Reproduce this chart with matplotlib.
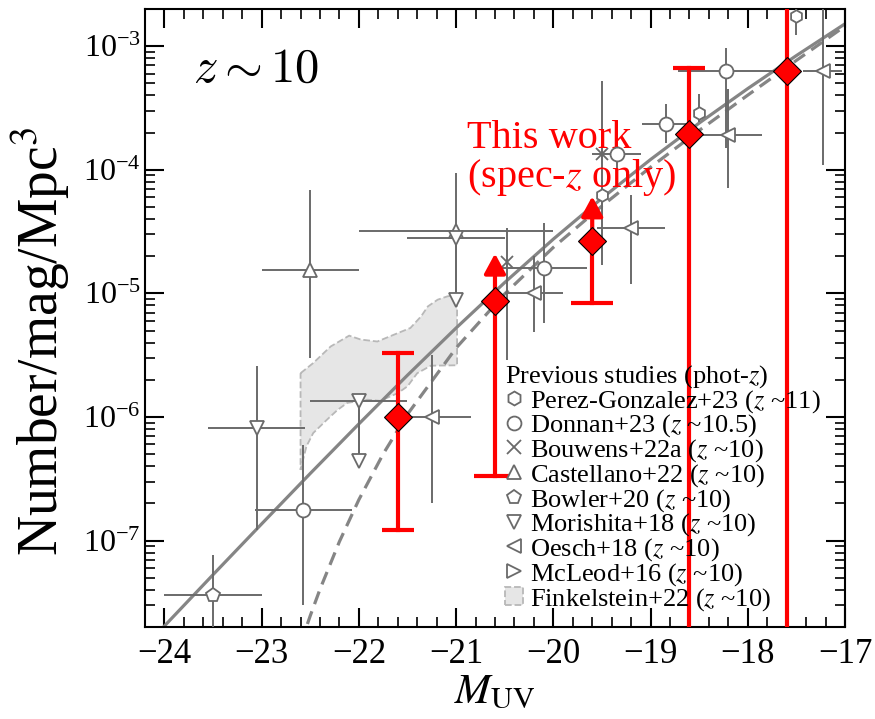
import numpy as np
import matplotlib
matplotlib.use("Agg")
import matplotlib.pyplot as plt
from matplotlib.lines import Line2D
from matplotlib.patches import Patch, Polygon
from matplotlib.ticker import MultipleLocator, LogLocator, NullFormatter, FuncFormatter

plt.rcParams['font.family'] = 'serif'
plt.rcParams['font.serif'] = ['Liberation Serif', 'DejaVu Serif']
plt.rcParams['mathtext.fontset'] = 'stix'

GREY = '#6a6a6a'
CURVE = '#858585'

# ---- this work (spec-z) ----
red_M = [-21.6, -20.6, -19.6, -18.6, -17.6]
red_phi = [1.0e-6, 8.6e-6, 2.65e-5, 1.93e-4, 6.3e-4]
red_lo = [1.22e-7, 3.3e-7, 8.3e-6, 1e-9, 1e-9]
red_hi = [3.3e-6, 2.1e-5, 6.1e-5, 6.6e-4, 1e-2]
red_is_limit = [False, True, True, False, False]

# ---- previous studies (phot-z) ----
pg_M = [-19.5, -18.5, -17.5]
pg_phi = [6.3e-5, 2.9e-4, 1.77e-3]
pg_lo = [4.8e-5, 2.45e-4, 1.24e-3]
pg_hi = [8.0e-5, 4.1e-4, 3.0e-3]

dn_M = [-22.57, -20.1, -19.35, -18.84, -18.22]
dn_phi = [1.77e-7, 1.6e-5, 1.35e-4, 2.35e-4, 6.35e-4]
dn_lo = [3.0e-8, 5.8e-6, 1.0e-4, 1.65e-4, 1.5e-4]
dn_hi = [5.95e-7, 3.7e-5, 1.8e-4, 3.4e-4, 9.7e-4]
dn_dM = [0.5, 0.45, 0.25, 0.25, 0.5]

bw_M = [-20.48, -19.5]
bw_phi = [1.8e-5, 1.33e-4]
bw_lo = [2.9e-6, 1.7e-5]
bw_hi = [3.4e-5, 5.2e-4]

cs_M = [-22.5, -21.0]
cs_phi = [1.56e-5, 3.2e-5]
cs_lo = [3.0e-6, 1.0e-5]
cs_hi = [6.9e-5, 9.4e-5]
cs_dM = [0.5, 1.0]

bl_M = [-23.5]
bl_phi = [3.6e-8]
bl_lo = [1e-9]
bl_hi = [7.6e-8]
bl_dM = [0.5]

mo_M = [-23.05, -22.0, -21.0]
mo_phi = [8.1e-7, 1.34e-6, 2.8e-5]
mo_lo = [1.22e-7, 4.4e-7, 8.9e-6]
mo_hi = [2.6e-6, 1.34e-6, 2.8e-5]
mo_dM = [0.5, 0.5, 0.5]
mo_is_uplim = [False, True, True]

oe_M = [-21.25, -20.2, -19.2, -18.2, -17.23]
oe_phi = [1.0e-6, 1.0e-5, 3.4e-5, 1.9e-4, 6.3e-4]
oe_lo = [2.0e-7, 4.9e-6, 1.2e-5, 7.1e-5, 1.1e-4]
oe_hi = [3.2e-6, 2.0e-5, 6.3e-5, 4.5e-4, 3.0e-3]
oe_dM = [0.4, 0.3, 0.35, 0.35, 0.2]

# Finkelstein+22 region outline (M, phi), clockwise
fk_M = [-22.60, -22.47, -22.29, -22.10, -21.98, -21.81, -21.64, -21.47, -21.36,
        -21.29, -21.19, -21.09, -20.99, -20.99, -21.26, -21.40, -21.50, -21.60,
        -21.78, -21.91, -22.12, -22.22, -22.33, -22.47, -22.54, -22.60]
fk_phi = [2.26e-6, 2.73e-6, 3.72e-6, 4.55e-6, 4.23e-6, 4.08e-6, 4.63e-6, 5.25e-6,
          6.52e-6, 7.85e-6, 8.89e-6, 9.46e-6, 9.73e-6, 2.62e-6, 2.60e-6, 2.26e-6,
          1.77e-6, 1.56e-6, 1.35e-6, 1.38e-6, 1.30e-6, 1.14e-6, 9.48e-7, 7.41e-7,
          5.77e-7, 3.73e-7]

# model curves: log10(phi)
dpl_M = [-24.2, -24.0, -23.5, -23.0, -22.5, -22.0, -21.5, -21.0, -20.5,
         -20.0, -19.5, -19.0, -18.5, -18.0, -17.5, -17.0]
dpl_logphi = [-7.857, -7.691, -7.276, -6.865, -6.457, -6.056, -5.662, -5.280,
              -4.912, -4.561, -4.230, -3.917, -3.622, -3.343, -3.076, -2.819]
sch_M = [-22.6, -22.5, -22.4, -22.2, -22.0, -21.75, -21.5, -21.0, -20.5,
         -20.0, -19.5, -19.0, -18.5, -18.0, -17.5, -17.0]
sch_logphi = [-7.836, -7.608, -7.394, -7.008, -6.669, -6.299, -5.978, -5.442,
              -5.004, -4.628, -4.293, -3.979, -3.682, -3.396, -3.115, -2.838]

fig = plt.figure(figsize=(8.75, 7.19), dpi=100)
ax = fig.add_axes([0.1657, 0.128, 0.8, 0.8595])
ax.set_yscale('log')
ax.set_xlim(-24.2, -17)
ax.set_ylim(2e-8, 2e-3)

ax.add_patch(Polygon(np.column_stack([fk_M, fk_phi]), closed=True,
                     facecolor='#e6e6e6', edgecolor='#b8b8b8', ls='--',
                     lw=1.3, zorder=1))

ax.plot(dpl_M, np.power(10.0, dpl_logphi), color=CURVE, lw=2.3, zorder=2.5)
ax.plot(sch_M, np.power(10.0, sch_logphi), color=CURVE, lw=2.3,
        dashes=(4.2, 2.4), zorder=2.5)


def grey_points(m, phi, lo, hi, dM, marker, ms=10):
    phi = np.array(phi)
    yerr = [phi - np.array(lo), np.array(hi) - phi]
    ax.errorbar(m, phi, xerr=dM, yerr=yerr, fmt=marker, ms=ms, mfc='white',
                mec=GREY, mew=1.3, ecolor=GREY, elinewidth=1.4, capsize=0,
                zorder=3)


grey_points(pg_M, pg_phi, pg_lo, pg_hi, None, 'h', 9)
grey_points(dn_M, dn_phi, dn_lo, dn_hi, dn_dM, 'o', 10)
grey_points(bw_M, bw_phi, bw_lo, bw_hi, None, 'x', 9)
grey_points(cs_M, cs_phi, cs_lo, cs_hi, cs_dM, '^', 10)
grey_points(bl_M, bl_phi, bl_lo, bl_hi, bl_dM, 'p', 10)
grey_points(oe_M, oe_phi, oe_lo, oe_hi, oe_dM, '<', 10)

# Morishita: one measurement plus two upper limits (open triangle heads)
for m, p, lo, hi, dm, lim in zip(mo_M, mo_phi, mo_lo, mo_hi, mo_dM, mo_is_uplim):
    grey_points([m], [p], [lo], [hi if not lim else p], [dm], 'v', 10)
    if lim:
        ax.plot([m, m], [lo, p], color=GREY, lw=1.4, zorder=3)
        ax.plot([m], [lo], 'v', ms=10, mfc='white', mec=GREY, mew=1.3, zorder=3)

# this work
cap_pt = [23, 30, 30, 23, 0]
for i, (m, p, lo, hi, lim) in enumerate(zip(red_M, red_phi, red_lo, red_hi, red_is_limit)):
    if lim:
        ax.plot([m, m], [lo, p], color='red', lw=3, zorder=4)
        ax.annotate('', xy=(m, hi), xytext=(m, p),
                    arrowprops=dict(arrowstyle='-|>,head_length=12,head_width=6.5',
                                    mutation_scale=1, color='red', lw=3,
                                    shrinkA=0, shrinkB=0), zorder=4)
        ax.plot([m], [lo], marker='_', ms=cap_pt[i], mew=3, color='red', zorder=4)
    else:
        ax.plot([m, m], [lo, hi], color='red', lw=3, zorder=4)
        if cap_pt[i]:
            ax.plot([m], [hi], marker='_', ms=cap_pt[i], mew=3, color='red', zorder=4)
            if lo > 2e-8:
                ax.plot([m], [lo], marker='_', ms=cap_pt[i], mew=3, color='red', zorder=4)
ax.plot(red_M, red_phi, 'D', ms=14, mfc='red', mec='black', mew=0.8, zorder=6)


def decade_label(v, pos):
    e = int(round(np.log10(v)))
    return r'$\mathdefault{10^{\mathdefault{-%d}}}$' % (-e)


# axes styling
ax.xaxis.set_major_locator(MultipleLocator(1))
ax.xaxis.set_minor_locator(MultipleLocator(0.2))
ax.yaxis.set_major_locator(LogLocator(base=10, numticks=20))
ax.yaxis.set_major_formatter(FuncFormatter(decade_label))
ax.yaxis.set_minor_locator(LogLocator(base=10, subs=np.arange(2, 10), numticks=20))
ax.yaxis.set_minor_formatter(NullFormatter())
ax.tick_params(which='both', direction='in', top=True, right=True)
ax.tick_params(axis='x', which='major', labelsize=25, pad=8)
ax.tick_params(axis='y', which='major', labelsize=23, pad=3)
ax.tick_params(which='major', length=14, width=1.5)
ax.tick_params(which='minor', length=7, width=1.2)
for s in ax.spines.values():
    s.set_linewidth(1.5)

ax.set_xlabel(r'$M_{\rm UV}$', fontsize=31, labelpad=2)
ax.set_ylabel(r'Number/mag/Mpc$^3$', fontsize=40)
ax.yaxis.set_label_coords(-0.104, 0.462)

ax.text(0.159, 0.901, r'$z\sim10$', transform=ax.transAxes, fontsize=35,
        math_fontfamily='cm', ha='center', va='center')
ax.text(0.46, 0.775, 'This work', transform=ax.transAxes, fontsize=29,
        color='red', ha='left', va='baseline')
ax.text(0.46, 0.712, r'(spec-$z$ only)', transform=ax.transAxes, fontsize=29,
        color='red', ha='left', va='baseline')

kw = dict(ls='none', mfc='white', mec=GREY, mew=1.3, color=GREY, ms=10)
handles = [
    Line2D([], [], marker='h', **kw),
    Line2D([], [], marker='o', **kw),
    Line2D([], [], marker='x', **kw),
    Line2D([], [], marker='^', **kw),
    Line2D([], [], marker='p', **kw),
    Line2D([], [], marker='v', **kw),
    Line2D([], [], marker='<', **kw),
    Line2D([], [], marker='>', **kw),
    Patch(facecolor='#e6e6e6', edgecolor='#b8b8b8', ls='--', lw=1.3),
]
labels = [r'Perez-Gonzalez+23 ($z$ ~11)', r'Donnan+23 ($z$ ~10.5)',
          r'Bouwens+22a ($z$ ~10)', r'Castellano+22 ($z$ ~10)',
          r'Bowler+20 ($z$ ~10)', r'Morishita+18 ($z$ ~10)',
          r'Oesch+18 ($z$ ~10)', r'McLeod+16 ($z$ ~10)',
          r'Finkelstein+22 ($z$ ~10)']
leg = ax.legend(handles, labels, title=r'Previous studies (phot-$z$)',
                loc='upper left', bbox_to_anchor=(0.514, 0.427), frameon=False,
                fontsize=19, title_fontsize=19, alignment='left',
                handlelength=0.7, handleheight=0.7, handletextpad=0.25,
                labelspacing=-0.08, borderpad=0, borderaxespad=0)
leg.set_zorder(7)

fig.savefig('out.png', dpi=100)
